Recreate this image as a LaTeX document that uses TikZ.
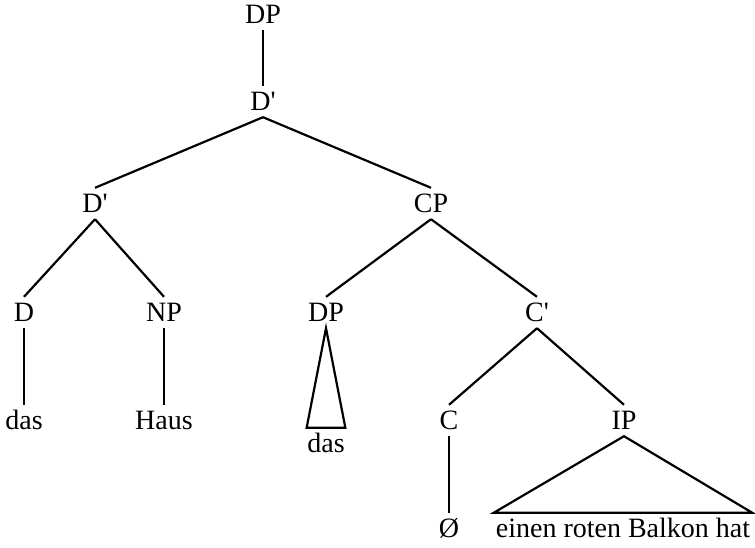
\documentclass[tikz,border=0pt]{standalone}
\usepackage{fontspec}
\setmainfont{Liberation Serif}
\begin{document}
\begin{tikzpicture}[x=1pt,y=-1pt,
  lab/.style={anchor=base, font=\fontsize{28pt}{32pt}\selectfont,
    text height=17pt, text depth=0pt, inner ysep=7pt, inner xsep=2pt},
  branch/.style={line width=2.2pt},
  roof/.style={line width=2.2pt, line join=miter}]
\useasboundingbox (0,0) rectangle (755,547);

% level 0 and 1
\node[lab] (dp)   at (263,23)  {DP};
\node[lab] (dbar) at (263,110) {D\textquotesingle};
% level 2
\node[lab] (dbarl) at (95,212)  {D\textquotesingle};
\node[lab] (cp)    at (431,212) {CP};
% level 3
\node[lab] (d)    at (24,321)  {D};
\node[lab] (np)   at (164,321) {NP};
\node[lab] (dps)  at (326,321) {DP};
\node[lab] (cbar) at (537,321) {C\textquotesingle};
% level 4
\node[lab] (das)  at (24,429)  {das};
\node[lab] (haus) at (164,429) {Haus};
\node[lab, inner xsep=0.5pt] (dasr) at (326,452) {das};
\node[lab] (c)    at (449,429) {C};
\node[lab] (ip)   at (624,429) {IP};
% level 5
\node[lab] (null) at (449,537) {Ø};
\node[lab, inner xsep=2pt] (ipt) at (623,537) {einen roten Balkon hat};

% branches
\draw[branch] (dp.south) -- (dbar.north);
\draw[branch] (dbar.south) -- (dbarl.north);
\draw[branch] (dbar.south) -- (cp.north);
\draw[branch] (dbarl.south) -- (d.north);
\draw[branch] (dbarl.south) -- (np.north);
\draw[branch] (cp.south) -- (dps.north);
\draw[branch] (cp.south) -- (cbar.north);
\draw[branch] (d.south) -- (das.north);
\draw[branch] (np.south) -- (haus.north);
\draw[branch] (cbar.south) -- (c.north);
\draw[branch] (cbar.south) -- (ip.north);
\draw[branch] (c.south) -- (null.north);

% triangles over unanalysed constituents
\draw[roof] (dps.south) -- (dasr.north west) -- (dasr.north east) -- cycle;
\draw[roof] (ip.south) -- (ipt.north west) -- (ipt.north east) -- cycle;
\end{tikzpicture}
\end{document}
